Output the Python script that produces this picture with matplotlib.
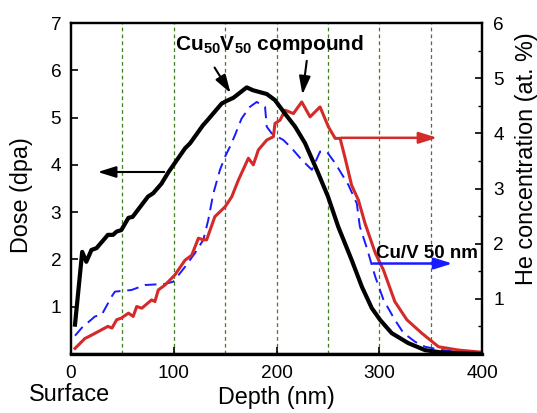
import matplotlib
matplotlib.use('Agg')
import matplotlib.pyplot as plt

plt.rcParams['font.family'] = ['Liberation Sans', 'DejaVu Sans']
plt.rcParams['mathtext.fontset'] = 'custom'
plt.rcParams['mathtext.rm'] = 'Liberation Sans'
plt.rcParams['mathtext.bf'] = 'Liberation Sans:bold'
plt.rcParams['font.size'] = 13.7

# dose (dpa), Cu50V50 compound -- left axis
dose_x = [4, 11, 15, 20, 25, 36, 41, 44.5, 49, 56, 60, 75, 80, 88, 95, 111, 116, 128.5, 133,
          146.7, 152, 158, 171, 177, 190.5, 198.5, 208, 218, 227.7, 240.4, 250, 260, 273, 283,
          292.6, 300.7, 312, 328, 344.5, 360.8, 380, 400]
dose_y = [0.62, 2.16, 1.95, 2.2, 2.24, 2.52, 2.52, 2.59, 2.62, 2.88, 2.9, 3.33, 3.4, 3.6, 3.85,
          4.35, 4.46, 4.84, 4.95, 5.3, 5.36, 5.42, 5.64, 5.58, 5.5, 5.37, 5.09, 4.81, 4.46, 3.83,
          3.33, 2.69, 1.99, 1.42, 0.97, 0.72, 0.44, 0.23, 0.08, 0.03, 0.01, 0.0]

# He concentration (at. %), Cu50V50 compound -- right axis
he_cmp_x = [4, 13.6, 20, 36, 40, 44.5, 49, 56, 60.6, 64, 69, 78.5, 81.7, 85, 91.5, 101, 111,
            117.5, 124, 128.8, 132, 140, 150, 156.4, 162.8, 172.6, 177.4, 182.3, 190.5, 196.9,
            198.5, 203.4, 208.3, 216.4, 224.5, 232.6, 242.3, 250.4, 257, 261.8, 266.7, 273,
            279.6, 286, 296, 304, 315, 326.7, 341, 357.5, 377, 400]
he_cmp_y = [0.10, 0.28, 0.34, 0.5, 0.47, 0.62, 0.65, 0.74, 0.68, 0.86, 0.83, 0.98, 0.95, 1.16,
            1.25, 1.43, 1.70, 1.79, 2.1, 2.07, 2.07, 2.49, 2.67, 2.85, 3.15, 3.55, 3.43, 3.70,
            3.88, 3.94, 4.18, 4.24, 4.42, 4.36, 4.57, 4.30, 4.48, 4.12, 3.91, 3.91, 3.55, 3.06,
            2.79, 2.37, 1.83, 1.52, 0.95, 0.62, 0.38, 0.13, 0.07, 0.03]

# He concentration (at. %), Cu/V 50 nm multilayer -- right axis
he_ml_x = [4, 10.4, 23.4, 30, 39.6, 42.8, 59, 72, 91.5, 99.6, 111, 120.7, 128.8, 133.6, 138.5,
           145, 150, 154.7, 159.6, 166, 174, 180.7, 188.8, 190.5, 195.3, 206.6, 214.8, 224.5,
           234.3, 242.3, 248.8, 257, 270, 278, 281, 287.8, 296, 304, 315, 323.4, 334.8, 344.5,
           360.8, 380, 395]
he_ml_y = [0.33, 0.47, 0.68, 0.71, 1.04, 1.13, 1.16, 1.25, 1.27, 1.31, 1.58, 1.83, 2.07, 2.43,
           2.91, 3.34, 3.58, 3.76, 3.97, 4.27, 4.48, 4.57, 4.48, 4.12, 4.0, 3.88, 3.73, 3.52,
           3.34, 3.67, 3.67, 3.46, 3.06, 2.73, 2.31, 1.92, 1.40, 0.98, 0.62, 0.38, 0.22, 0.13,
           0.07, 0.03, 0.01]

grid_x = [50, 100, 150, 200, 250, 300, 350]
x_ticks = [0, 100, 200, 300, 400]
dose_ticks = [1, 2, 3, 4, 5, 6, 7]
he_ticks = [1, 2, 3, 4, 5, 6]

red = '#d42a2a'
blue = '#1a1aff'
label_size = 16.8

fig = plt.figure(figsize=(5.37, 4.13), dpi=100)
ax = fig.add_axes([0.132, 0.143, 0.766, 0.801])
ax2 = ax.twinx()
ax.set_zorder(ax2.get_zorder() + 1)
ax.patch.set_visible(False)

for gx in grid_x:
    ax2.axvline(gx, color='#3f7f1f', lw=0.9, ls=(0, (3, 2.5)), zorder=0)

ax2.plot(he_ml_x, he_ml_y, color=blue, lw=1.4, ls=(0, (6, 3.5)))
ax2.plot(he_cmp_x, he_cmp_y, color=red, lw=2.2)
ax.plot(dose_x, dose_y, color='black', lw=3.0)

ax.set_xlim(0, 400)
ax.set_ylim(0, 7)
ax2.set_ylim(0, 6)
ax.set_xticks(x_ticks)
ax.set_yticks(dose_ticks)
ax2.set_yticks(he_ticks)
ax2.set_yticks([0.5 + t for t in range(6)], minor=True)

ax.tick_params(axis='both', direction='in', length=5, width=1.2, pad=7)
ax.tick_params(axis='x', top=False, pad=8)
ax2.tick_params(axis='y', which='major', direction='in', length=5, width=1.2, pad=8)
ax2.tick_params(axis='y', which='minor', direction='in', length=3, width=1.0)

for a in (ax, ax2):
    for s in a.spines.values():
        s.set_linewidth(1.6)
ax.spines['bottom'].set_linewidth(2.4)

ax.set_ylabel('Dose (dpa)', fontsize=label_size)
ax.yaxis.set_label_coords(-0.092, 0.48)
ax2.set_ylabel('He concentration (at. %)', fontsize=label_size)
ax2.yaxis.set_label_coords(1.079, 0.59)
ax.set_xlabel('Depth (nm)', fontsize=label_size, labelpad=3)
fig.text(0.130, 0.046, 'Surface', ha='center', va='center', fontsize=label_size)

ax.text(192.7, 6.43, r'Cu$_{\mathbf{50}}$V$_{\mathbf{50}}$ compound', fontweight='bold',
        ha='center', va='baseline', fontsize=15)
arrow_k = dict(arrowstyle='-|>,head_length=0.8,head_width=0.25', color='black', lw=1.5)
ax.annotate('', xy=(156.7, 5.47), xytext=(138.3, 6.11), arrowprops=arrow_k)
ax.annotate('', xy=(224.8, 5.43), xytext=(229.7, 6.26), arrowprops=arrow_k)
ax.annotate('', xy=(23.4, 3.85), xytext=(93.5, 3.85),
            arrowprops=dict(arrowstyle='-|>,head_length=0.8,head_width=0.25', color='black', lw=1.5))

ax2.annotate('', xy=(359, 3.92), xytext=(260, 3.92),
             arrowprops=dict(arrowstyle='-|>,head_length=0.8,head_width=0.25', color=red, lw=1.8))
ax2.annotate('', xy=(373.7, 1.64), xytext=(291, 1.64),
             arrowprops=dict(arrowstyle='-|>,head_length=0.8,head_width=0.25', color=blue, lw=1.8))
ax2.text(346.5, 1.74, 'Cu/V 50 nm', fontweight='bold', ha='center', va='baseline', fontsize=13.5)

fig.savefig('out.png', dpi=100)
